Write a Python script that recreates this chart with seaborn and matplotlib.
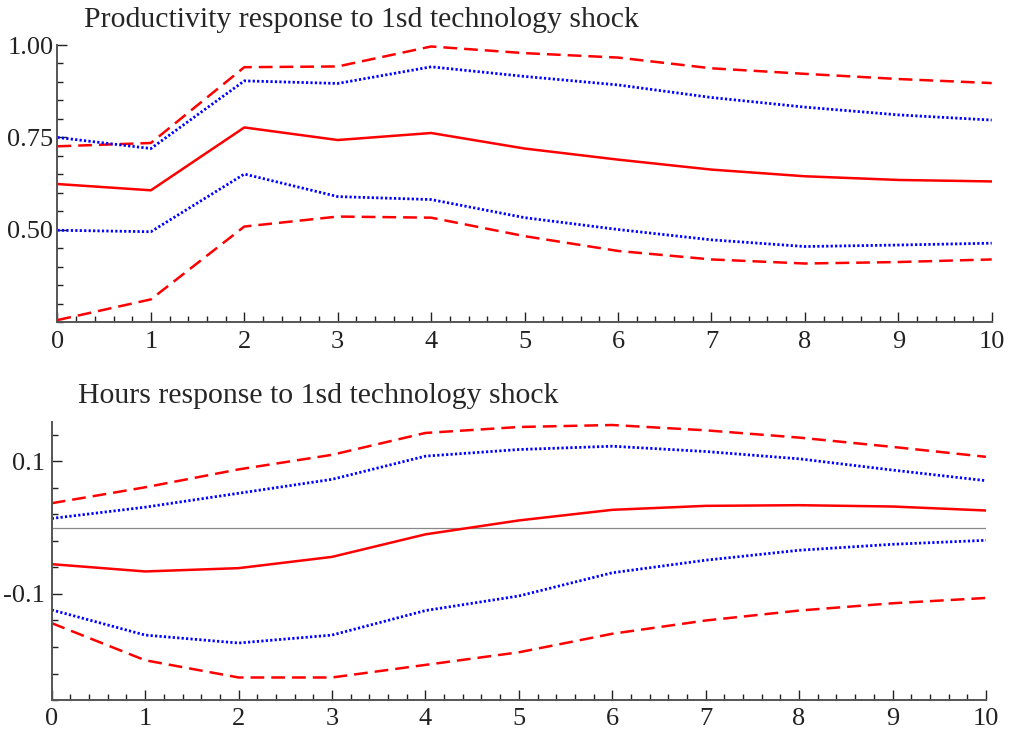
import numpy as np
import pandas as pd
import matplotlib
matplotlib.use("Agg")
import matplotlib.pyplot as plt
from matplotlib.ticker import MultipleLocator, FixedLocator
import seaborn as sns

# Impulse-response horizon (periods after the shock)
horizon = [0, 1, 2, 3, 4, 5, 6, 7, 8, 9, 10]

# Productivity response: point estimate and two sets of bands
prod_mid = [0.624, 0.607, 0.777, 0.743, 0.762, 0.720, 0.690, 0.663, 0.645, 0.635, 0.631]
prod_hi_outer = [0.726, 0.735, 0.940, 0.942, 0.996, 0.978, 0.966, 0.937, 0.922, 0.908, 0.897]
prod_hi_inner = [0.750, 0.720, 0.903, 0.896, 0.941, 0.915, 0.892, 0.858, 0.832, 0.811, 0.797]
prod_lo_inner = [0.499, 0.495, 0.651, 0.590, 0.582, 0.533, 0.501, 0.473, 0.455, 0.459, 0.464]
prod_lo_outer = [0.256, 0.312, 0.509, 0.536, 0.533, 0.483, 0.443, 0.420, 0.409, 0.413, 0.420]

# Hours response: point estimate and two sets of bands
hours_mid = [-0.055, -0.066, -0.061, -0.044, -0.010, 0.011, 0.027, 0.033, 0.034, 0.032, 0.026]
hours_hi_outer = [0.037, 0.061, 0.088, 0.110, 0.143, 0.152, 0.155, 0.147, 0.136, 0.122, 0.107]
hours_hi_inner = [0.014, 0.031, 0.052, 0.073, 0.108, 0.118, 0.123, 0.115, 0.104, 0.087, 0.071]
hours_lo_inner = [-0.124, -0.162, -0.174, -0.162, -0.125, -0.103, -0.068, -0.049, -0.034, -0.025, -0.019]
hours_lo_outer = [-0.144, -0.200, -0.226, -0.226, -0.207, -0.188, -0.160, -0.140, -0.125, -0.114, -0.106]

titles = ["Productivity response to 1sd technology shock",
          "Hours response to 1sd technology shock"]

sns.set_style("ticks")
plt.rcParams["font.family"] = ["Liberation Serif", "DejaVu Serif"]

RED = "#ff0000"
BLUE = "#0000ff"
AXC = "#555555"

fig = plt.figure(figsize=(10.10, 7.33), dpi=100)
ax1 = fig.add_axes([0.0569, 0.5603, 0.9250, 0.3783])
ax2 = fig.add_axes([0.0512, 0.0450, 0.9250, 0.3797])

LW = 1.8
DASH = (0, (5.5, 2.8))
DOT = (0, (0.8, 0.8))


def draw_panel(ax, mid, hi_out, hi_in, lo_in, lo_out):
    df = pd.DataFrame({"h": horizon, "mid": mid, "hi_out": hi_out,
                       "hi_in": hi_in, "lo_in": lo_in, "lo_out": lo_out})
    sns.lineplot(data=df, x="h", y="hi_out", ax=ax, color=RED, lw=LW, linestyle=DASH)
    sns.lineplot(data=df, x="h", y="lo_out", ax=ax, color=RED, lw=LW, linestyle=DASH)
    sns.lineplot(data=df, x="h", y="hi_in", ax=ax, color=BLUE, lw=2.0, linestyle=DOT)
    sns.lineplot(data=df, x="h", y="lo_in", ax=ax, color=BLUE, lw=2.0, linestyle=DOT)
    sns.lineplot(data=df, x="h", y="mid", ax=ax, color=RED, lw=LW, linestyle="-")
    ax.set_xlabel("")
    ax.set_ylabel("")
    ax.set_xlim(0, 10)
    ax.xaxis.set_major_locator(MultipleLocator(1))
    ax.xaxis.set_minor_locator(MultipleLocator(0.2))
    for s in ("top", "right"):
        ax.spines[s].set_visible(False)
    for s in ("left", "bottom"):
        ax.spines[s].set_color(AXC)
        ax.spines[s].set_linewidth(1.4)
    ax.tick_params(which="both", direction="in", colors="#222222", width=1.0)
    ax.tick_params(which="major", length=7, labelsize=19)
    ax.tick_params(which="minor", length=4)
    ax.tick_params(axis="x", pad=6)
    ax.tick_params(axis="y", pad=3)


draw_panel(ax1, prod_mid, prod_hi_outer, prod_hi_inner, prod_lo_inner, prod_lo_outer)
ax1.set_ylim(0.25, 1.0)
ax1.yaxis.set_major_locator(FixedLocator([0.5, 0.75, 1.0]))
ax1.yaxis.set_minor_locator(MultipleLocator(0.05))
ax1.set_yticklabels(["0.50", "0.75", "1.00"])

draw_panel(ax2, hours_mid, hours_hi_outer, hours_hi_inner, hours_lo_inner, hours_lo_outer)
ax2.set_ylim(-0.26, 0.16)
ax2.axhline(0, color="#888888", lw=0.9, zorder=0)
ax2.yaxis.set_major_locator(FixedLocator([-0.1, 0.1]))
ax2.yaxis.set_minor_locator(FixedLocator([0.14, 0.06, 0.02, -0.02, -0.06, -0.14, -0.18, -0.22, -0.26]))
ax2.set_yticklabels(["-0.1", "0.1"])
ax2.tick_params(axis="y", pad=5)

fig.text(84 / 1010, 1 - 20 / 733, titles[0], fontsize=21.4, ha="left", va="center")
fig.text(78 / 1010, 1 - 396 / 733, titles[1], fontsize=21.4, ha="left", va="center")

fig.savefig("out.png", dpi=100)
